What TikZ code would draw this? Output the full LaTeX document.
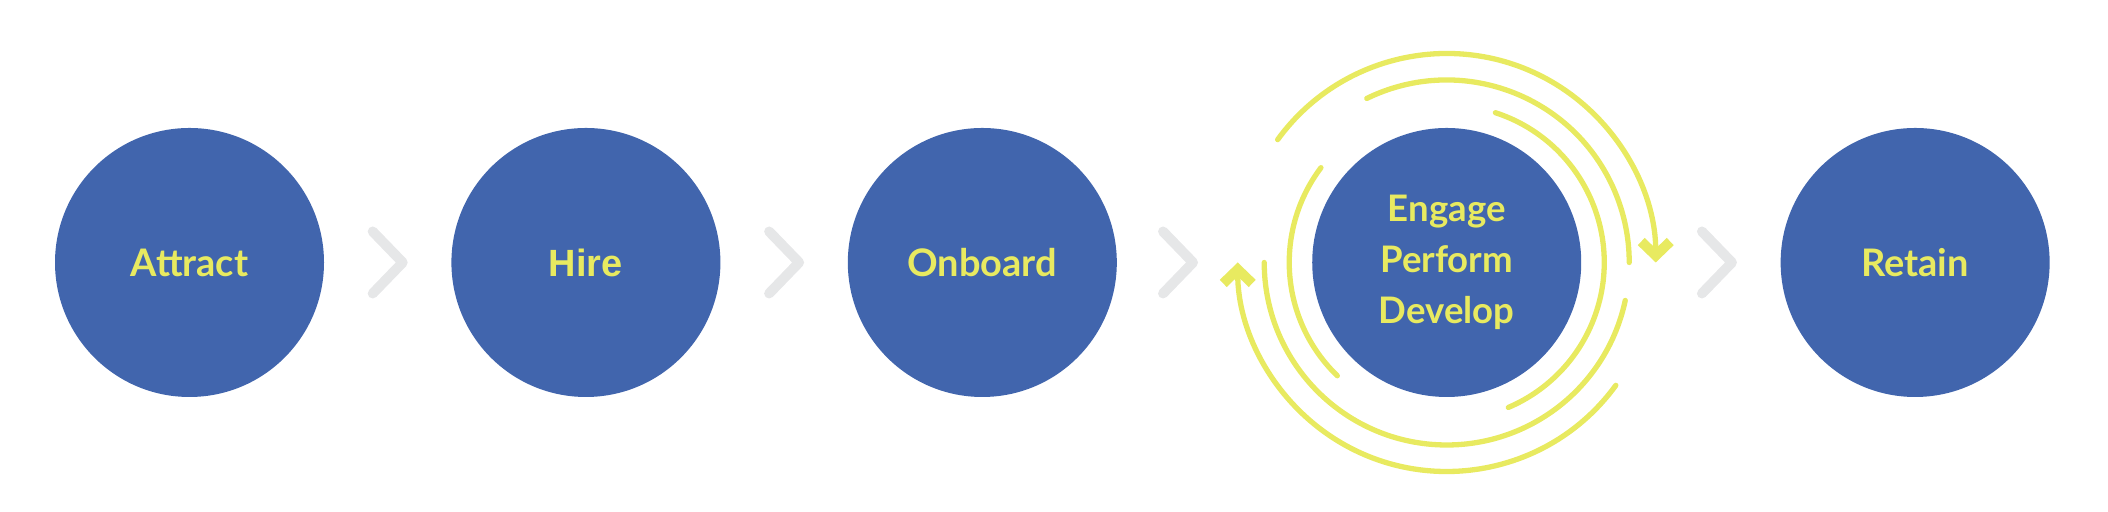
\documentclass[tikz,border=0pt]{standalone}
\usepackage{fontspec}
\setmainfont{Lato}
\newfontfamily\hirefont{Liberation Sans}
\usetikzlibrary{positioning}
\usetikzlibrary{calc}
\usetikzlibrary{arrows.meta}
\definecolor{stageblue}{RGB}{65,101,173}
\definecolor{stageyellow}{RGB}{232,234,96}
\definecolor{chevgrey}{RGB}{230,231,232}

\begin{document}
\begin{tikzpicture}[node distance = 1.26cm]
\tikzstyle{stage}=[circle,fill=stageblue,minimum size=2.69cm,inner sep=0pt,text=stageyellow,font=\bfseries\fontsize{10.8}{12}\selectfont]
\tikzstyle{chev}=[draw=chevgrey,line width=1mm,line cap=round,line join=round]
\tikzstyle{loop}=[draw=stageyellow,line width=0.53mm,line cap=round]
\tikzstyle{barb}=[-{Straight Barb[length=1.4mm,width=2.9mm,line width=1mm]}]
\useasboundingbox (0,0) rectangle (21.08,5.12);
% the five stages
\node[stage]	(attract)	at (1.895,2.495)		{Attract};
\node[stage]	(hire)		[right= of attract]		{\hirefont Hire};
\node[stage]	(onboard)	[right= of hire]		{Onboard};
\node[stage]	(engage)	[right= 1.94cm of onboard]	{};
\node[align=center,text=stageyellow,font=\bfseries\fontsize{10.4}{14.6}\selectfont]
		(epd)		at (engage)			{Engage\\Perform\\Develop};
\node[stage]	(retain)	[right= 1.98cm of engage]	{Retain};
% chevrons between the stages
\coordinate	(t1)	at ($(hire.west)+(-0.48,0)$);
\coordinate	(t2)	at ($(onboard.west)+(-0.48,0)$);
\coordinate	(t3)	at ($(engage.west)+(-1.185,0)$);
\coordinate	(t4)	at ($(retain.west)+(-0.48,0)$);
\foreach \t in {t1,t2,t3,t4}
  \draw[chev] ($(\t)+(-0.3,0.31)$) -- (\t) -- ($(\t)+(-0.3,-0.31)$);
% cycle round engage
\draw[loop,barb] ($(engage)+(144:2.09)$) arc[start angle=144,end angle=0,radius=2.09cm];
\draw[loop,barb] ($(engage)+(-36:2.09)$) arc[start angle=-36,end angle=-180,radius=2.09cm];
\draw[loop] ($(engage)+(116:1.825)$) arc[start angle=116,end angle=0,radius=1.825cm];
\draw[loop] ($(engage)+(180:1.825)$) arc[start angle=180,end angle=348,radius=1.825cm];
\draw[loop] ($(engage)+(72:1.575)$) arc[start angle=72,end angle=-67,radius=1.575cm];
\draw[loop] ($(engage)+(143:1.575)$) arc[start angle=143,end angle=226,radius=1.575cm];
\end{tikzpicture}
\end{document}
